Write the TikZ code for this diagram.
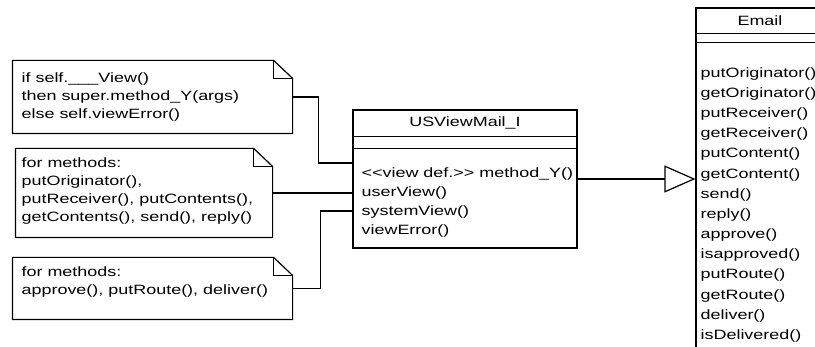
\documentclass[tikz,border=0pt]{standalone}
\usepackage{fontspec}
\setmainfont{Liberation Sans}[FakeStretch=1.33,Ligatures=TeXOff]
\usepackage{tikz}
\usetikzlibrary{arrows.meta}

\newcommand\umlfont{\fontsize{13.5}{18}\selectfont}
\newcommand\notefold[1]{%
  \draw (#1.north west)
  -- ([xshift=-19pt]#1.north east)
  -- ([yshift=-18pt]#1.north east)
  -- (#1.south east)
  -- (#1.south west) -- cycle;
  \draw ([xshift=-19pt]#1.north east)
  |- ([yshift=-18pt]#1.north east);}

\begin{document}
\begin{tikzpicture}[
  x=1pt, y=-1pt,
  line width=1.2pt,
  every node/.style={font=\umlfont, inner sep=0pt},
  notebox/.style={rectangle, minimum width=#1},
  notetext/.style={anchor=north west, align=left},
  classbox/.style={draw, rectangle, minimum width=#1},
  conn/.style={line width=1.2pt}
  ]

\useasboundingbox (0,0) rectangle (815,347);
\clip (0,0) rectangle (815,347);

\node[notebox=279pt, minimum height=72pt] (note1) at (152.5,97) {};
\notefold{note1}
\node[notetext] (note1text) at (21,72)
  {if self.\_\_\_View()\\then super.method\_Y(args)\\else self.viewError()};

\node[notebox=256pt, minimum height=88pt] (note2) at (144,193) {};
\notefold{note2}
\node[notetext] (note2text) at (21,157)
  {for methods:\\putOriginator(),\\putReceiver(), putContents(),\\getContents(), send(), reply()};

\node[notebox=279pt, minimum height=61pt] (note3) at (152.5,288.5) {};
\notefold{note3}
\node[notetext] (note3text) at (21,266)
  {for methods:\\approve(), putRoute(), deliver()};

\node[classbox=224pt, minimum height=138pt] (usview) at (465,179) {};
\draw ([yshift=-27pt]usview.north west) -- ([yshift=-27pt]usview.north east);
\draw ([yshift=-39pt]usview.north west) -- ([yshift=-39pt]usview.north east);
\node (usviewtitle) at (465,123) {USViewMail\_I};
\node[notetext, font=\fontsize{13.5}{19}\selectfont] (usviewops) at (361,167)
  {{<}{<}view def.{>}{>} method\_Y()\\userView()\\systemView()\\viewError()};

\node[classbox=128pt, minimum height=352pt] (email) at (760,184) {};
\draw ([yshift=-26pt]email.north west) -- ([yshift=-26pt]email.north east);
\draw ([yshift=-35pt]email.north west) -- ([yshift=-35pt]email.north east);
\node (emailtitle) at (760,21) {Email};
\node[notetext, font=\fontsize{13.5}{20.15}\selectfont] (emailops) at (700,67)
  {putOriginator()\\getOriginator()\\putReceiver()\\getReceiver()\\putContent()\\getContent()\\send()\\reply()\\approve()\\isapproved()\\putRoute()\\getRoute()\\deliver()\\isDelivered()};

\coordinate (in1) at ([yshift=16pt]usview.west);
\coordinate (in3) at ([yshift=-32pt]usview.west);
\draw[conn] (note1.east) -- ++(26,0) |- (in1);
\draw[conn] (note2.east) -- (note2.east -| usview.west);
\draw[conn] (note3.east) -- ++(28,0) |- (in3);
\draw[conn, -{Triangle[open, length=31pt, width=27pt]}] (usview.east) -- (usview.east -| email.west);

\end{tikzpicture}
\end{document}
